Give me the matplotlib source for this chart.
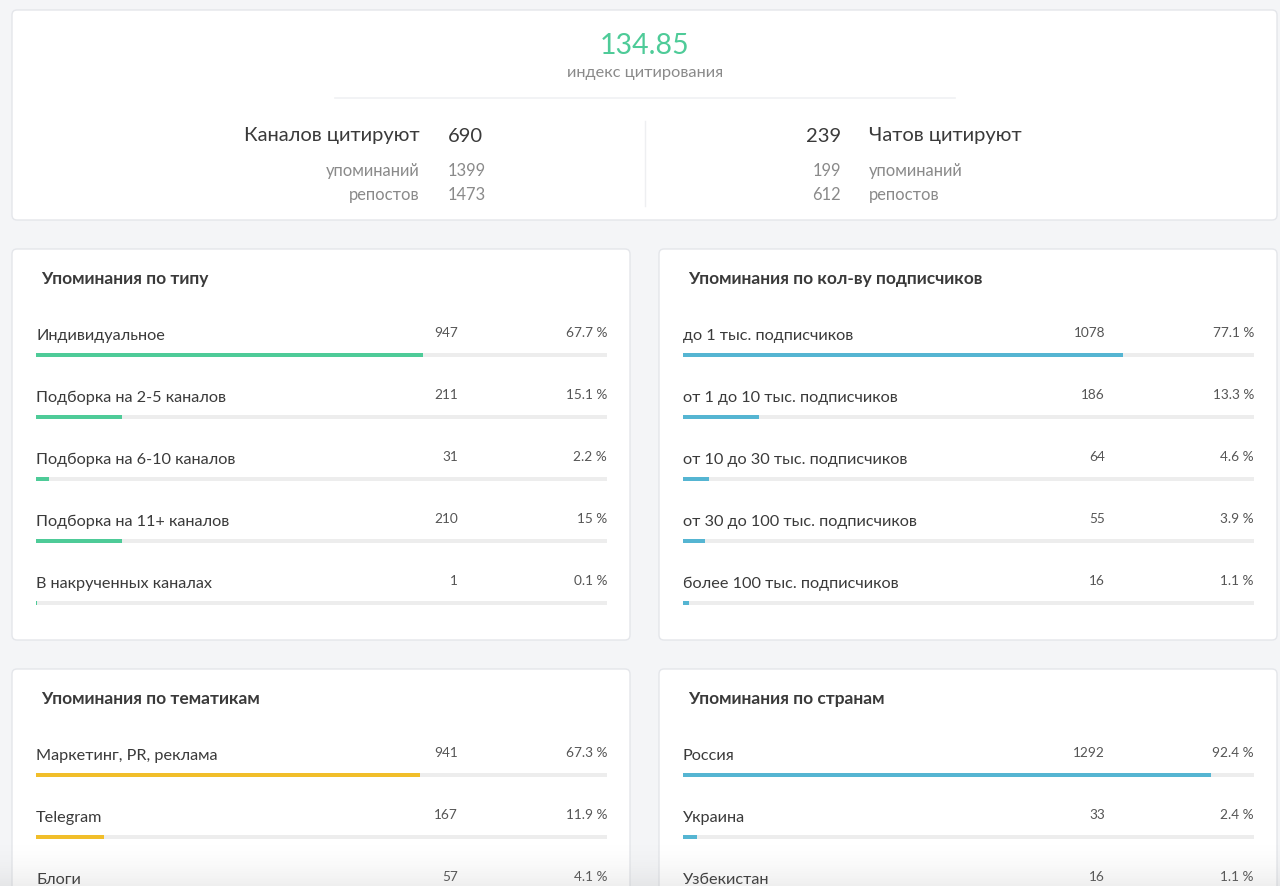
import numpy as np
import matplotlib
matplotlib.use("Agg")
import matplotlib.pyplot as plt
from matplotlib.patches import FancyBboxPatch

plt.rcParams['font.family'] = ['Lato', 'DejaVu Sans']

# --- данные ---
citation_index = "134.85"
channels_total = 690
channels_mentions = 1399
channels_reposts = 1473
chats_total = 239
chats_mentions = 199
chats_reposts = 612

type_labels = ["Индивидуальное", "Подборка на 2-5 каналов", "Подборка на 6-10 каналов",
               "Подборка на 11+ каналов", "В накрученных каналах"]
type_counts = [947, 211, 31, 210, 1]
type_pct = [67.7, 15.1, 2.2, 15, 0.1]

subs_labels = ["до 1 тыс. подписчиков", "от 1 до 10 тыс. подписчиков", "от 10 до 30 тыс. подписчиков",
               "от 30 до 100 тыс. подписчиков", "более 100 тыс. подписчиков"]
subs_counts = [1078, 186, 64, 55, 16]
subs_pct = [77.1, 13.3, 4.6, 3.9, 1.1]

topic_labels = ["Маркетинг, PR, реклама", "Telegram", "Блоги"]
topic_counts = [941, 167, 57]
topic_pct = [67.3, 11.9, 4.1]

country_labels = ["Россия", "Украина", "Узбекистан"]
country_counts = [1292, 33, 16]
country_pct = [92.4, 2.4, 1.1]

GREEN = "#4ecb98"
BLUE = "#55b5d2"
YELLOW = "#f1be2a"
TRACK = "#ededed"
DARK = "#3a3a3a"
GRAY = "#8a8a8a"

W, H = 1280, 887
fig = plt.figure(figsize=(W / 100, H / 100), dpi=100)
fig.patch.set_facecolor("#f4f5f7")
ax = fig.add_axes([0, 0, 1, 1])
ax.set_xlim(0, W)
ax.set_ylim(H, 0)
ax.axis("off")


def card(x0, y0, x1, y1):
    ax.add_patch(FancyBboxPatch((x0, y0), x1 - x0, y1 - y0,
                                boxstyle="round,pad=0,rounding_size=5",
                                fc="white", ec="#e4e6ea", lw=1, zorder=1))


def fmt_pct(p):
    return ("%g" % p) + " %"


# верхняя карточка
card(12, 11, 1277, 221)
ax.text(645, 46, citation_index, color=GREEN, fontsize=20.5, ha="center", va="center", zorder=3)
ax.text(645, 73, "индекс цитирования", color=GRAY, fontsize=11.8, ha="center", va="center", zorder=3)
ax.plot([335, 955], [99, 99], color="#f0f1f3", lw=1.2, zorder=2)
ax.plot([645, 645], [122, 207], color="#eeeff1", lw=1, zorder=2)

BIG, SMALL = 14.5, 11.9
ax.text(420, 136, "Каналов цитируют", color=DARK, fontsize=BIG, ha="right", va="center", zorder=3)
ax.text(448, 136, str(channels_total), color=DARK, fontsize=BIG, ha="left", va="center", zorder=3)
ax.text(420, 171, "упоминаний", color=GRAY, fontsize=SMALL, ha="right", va="center", zorder=3)
ax.text(448, 171, str(channels_mentions), color=GRAY, fontsize=SMALL, ha="left", va="center", zorder=3)
ax.text(420, 195, "репостов", color=GRAY, fontsize=SMALL, ha="right", va="center", zorder=3)
ax.text(448, 195, str(channels_reposts), color=GRAY, fontsize=SMALL, ha="left", va="center", zorder=3)

ax.text(841, 136, str(chats_total), color=DARK, fontsize=BIG, ha="right", va="center", zorder=3)
ax.text(869, 136, "Чатов цитируют", color=DARK, fontsize=BIG, ha="left", va="center", zorder=3)
ax.text(841, 171, str(chats_mentions), color=GRAY, fontsize=SMALL, ha="right", va="center", zorder=3)
ax.text(869, 171, "упоминаний", color=GRAY, fontsize=SMALL, ha="left", va="center", zorder=3)
ax.text(841, 195, str(chats_reposts), color=GRAY, fontsize=SMALL, ha="right", va="center", zorder=3)
ax.text(869, 195, "репостов", color=GRAY, fontsize=SMALL, ha="left", va="center", zorder=3)


def panel(x0, y0, x1, y1, title, labels, counts, pct, color):
    card(x0, y0, x1, y1)
    ax.text(x0 + 29, y0 + 29, title, color=DARK, fontsize=12.5, fontweight="bold",
            ha="left", va="center", zorder=3)
    bx0 = x0 + 24
    bx1 = x1 - 23
    bw = bx1 - bx0
    for i, (lab, c, p) in enumerate(zip(labels, counts, pct)):
        ty = y0 + 86 + 62 * i
        by = ty + 20
        ax.text(bx0, ty, lab, color=DARK, fontsize=11.7, ha="left", va="center", zorder=3)
        ax.text(x0 + 446, ty - 3, str(c), color="#555555", fontsize=9.8, ha="right", va="center", zorder=3)
        ax.text(bx1, ty - 3, fmt_pct(p), color="#555555", fontsize=9.8, ha="right", va="center", zorder=3)
        ax.barh(by, bw, left=bx0, height=4, color=TRACK, zorder=2)
        ax.barh(by, bw * p / 100, left=bx0, height=4, color=color, zorder=3)


panel(12, 250, 630, 641, "Упоминания по типу", type_labels, type_counts, type_pct, GREEN)
panel(659, 250, 1277, 641, "Упоминания по кол-ву подписчиков", subs_labels, subs_counts, subs_pct, BLUE)
panel(12, 670, 630, 960, "Упоминания по тематикам", topic_labels, topic_counts, topic_pct, YELLOW)
panel(659, 670, 1277, 960, "Упоминания по странам", country_labels, country_counts, country_pct, BLUE)

# лёгкое затемнение внизу
grad = np.linspace(0, 1, 50).reshape(-1, 1) ** 2
rgba = np.zeros((50, 1, 4))
rgba[..., :3] = 0.55
rgba[..., 3] = grad[:, :] * 0.14
ax.imshow(rgba, extent=[0, W, H, H - 50], aspect="auto", zorder=5)
ax.set_xlim(0, W)
ax.set_ylim(H, 0)

fig.savefig("out.png", dpi=100, facecolor=fig.get_facecolor())
